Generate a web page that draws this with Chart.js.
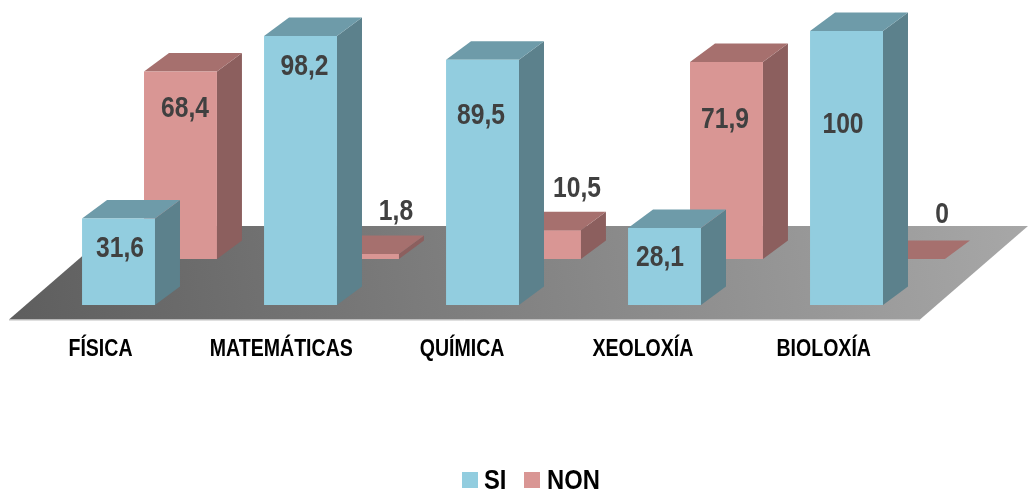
<!DOCTYPE html>
<html>
<head>
<meta charset="utf-8">
<title>SI / NON</title>
<script src="https://cdn.jsdelivr.net/npm/chart.js@4"></script>
<style>
  html, body { margin: 0; padding: 0; background: #fff; }
  canvas { display: block; }
</style>
</head>
<body>
<canvas id="chart" width="1028" height="491"></canvas>
<script>
const categories = ['FÍSICA', 'MATEMÁTICAS', 'QUÍMICA', 'XEOLOXÍA', 'BIOLOXÍA'];
const siValues = [31.6, 98.2, 89.5, 28.1, 100];
const nonValues = [68.4, 1.8, 10.5, 71.9, 0];

// where each value label sits, relative to the bar's centre and top
const siLabelOffsets = [[1.5, 31], [4, 31], [-1.5, 56], [-4.5, 30], [-3.5, 94]];
const nonLabelOffsets = [[4.5, 37], [33.5, -42], [32.5, -41], [-1.5, 58], [33.5, -44]];

const FONT = '"Liberation Sans", sans-serif';
// no narrow face is installed, so the bold one is squeezed sideways when drawn
const NARROW = 0.85;
const DEPTH_X = 25;
const DEPTH_Y = 18.5;
// the NON row stands further back on the floor: its scale is shifted by this many value units
const BACK_ROW = 16.8;

const siColors = { front: '#92CDDF', top: '#6E9BA9', side: '#5C818C' };
const nonColors = { front: '#D99694', top: '#A6706E', side: '#8C5F5E' };

function poly(ctx, color, points) {
    ctx.fillStyle = color;
    ctx.beginPath();
    points.forEach((p, i) => (i ? ctx.lineTo(p[0], p[1]) : ctx.moveTo(p[0], p[1])));
    ctx.closePath();
    ctx.fill();
}

function narrowText(ctx, text, x, y) {
    ctx.save();
    ctx.translate(x, y);
    ctx.scale(NARROW, 1);
    ctx.fillText(text, 0, 0);
    ctx.restore();
}

const bars3d = {
    id: 'bars3d',
    beforeDatasetsDraw(chart) {
        // floor under both rows
        const { ctx, chartArea } = chart;
        const front = chart.scales.y.getPixelForValue(0) + 14.5;
        const back = chart.scales.y2.getPixelForValue(0) - 33;
        const left = chartArea.left - 49.5;
        const right = chartArea.right - 48.5;
        const g = ctx.createLinearGradient(left, front, 1028, back - 60);
        g.addColorStop(0, '#5E5E5E');
        g.addColorStop(1, '#A8A8A8');
        poly(ctx, g, [[left, front], [right, front], [right + 108, back], [left + 108, back]]);
        ctx.strokeStyle = '#BFBFBF';
        ctx.lineWidth = 1;
        ctx.beginPath();
        ctx.moveTo(left, front + 0.5);
        ctx.lineTo(right, front + 0.5);
        ctx.stroke();
    },
    beforeDatasetDraw(chart, args) {
        // top and side faces, the front face is the library's own bar
        const { ctx } = chart;
        const colors = args.index === 0 ? siColors : nonColors;
        args.meta.data.forEach(bar => {
            const l = bar.x - bar.width / 2;
            const r = bar.x + bar.width / 2;
            poly(ctx, colors.side, [[r, bar.y], [r + DEPTH_X, bar.y - DEPTH_Y], [r + DEPTH_X, bar.base - DEPTH_Y], [r, bar.base]]);
            poly(ctx, colors.top, [[l, bar.y], [r, bar.y], [r + DEPTH_X, bar.y - DEPTH_Y], [l + DEPTH_X, bar.y - DEPTH_Y]]);
        });
    },
    afterDatasetsDraw(chart) {
        const { ctx } = chart;
        ctx.save();
        ctx.textAlign = 'center';
        ctx.textBaseline = 'middle';

        ctx.font = 'bold 29px ' + FONT;
        ctx.fillStyle = '#404040';
        [siLabelOffsets, nonLabelOffsets].forEach((offsets, d) => {
            chart.getDatasetMeta(d).data.forEach((bar, i) => {
                const text = String(chart.data.datasets[d].data[i]).replace('.', ',');
                narrowText(ctx, text, bar.x + offsets[i][0], bar.y + offsets[i][1]);
            });
        });

        // category names sit left of the tick and drift a little further left each step
        ctx.font = 'bold 23px ' + FONT;
        ctx.fillStyle = '#000';
        categories.forEach((name, i) => {
            narrowText(ctx, name, chart.scales.x.getPixelForTick(i) - 49 - i * 1.2, 350);
        });

        // legend, drawn by hand because the gap to the text is narrower than the built-in one
        ctx.font = 'bold 28px ' + FONT;
        ctx.textAlign = 'left';
        ctx.fillStyle = siColors.front;
        ctx.fillRect(462, 472, 16, 16);
        ctx.fillStyle = nonColors.front;
        ctx.fillRect(524, 472, 16, 16);
        ctx.fillStyle = '#000';
        narrowText(ctx, chart.data.datasets[0].label, 484, 481);
        narrowText(ctx, chart.data.datasets[1].label, 547, 481);
        ctx.restore();
    }
};

new Chart(document.getElementById('chart'), {
    type: 'bar',
    data: {
        labels: categories,
        datasets: [
            { label: 'SI', data: siValues, backgroundColor: siColors.front, yAxisID: 'y' },
            { label: 'NON', data: nonValues, backgroundColor: nonColors.front, yAxisID: 'y2' }
        ]
    },
    options: {
        responsive: false,
        animation: false,
        categoryPercentage: 0.681,
        barPercentage: 1.177,
        layout: { padding: { left: 58.5, right: 59.5, top: 31, bottom: 0 } },
        plugins: { legend: { display: false }, tooltip: { enabled: false } },
        scales: {
            x: {
                grid: { display: false },
                border: { display: false },
                afterFit(scale) { scale.height = 186; },
                ticks: { display: false, autoSkip: false }
            },
            y: { display: false, min: 0, max: 100 },
            y2: { display: false, min: -BACK_ROW, max: 100 - BACK_ROW }
        }
    },
    plugins: [bars3d]
});
</script>
</body>
</html>
